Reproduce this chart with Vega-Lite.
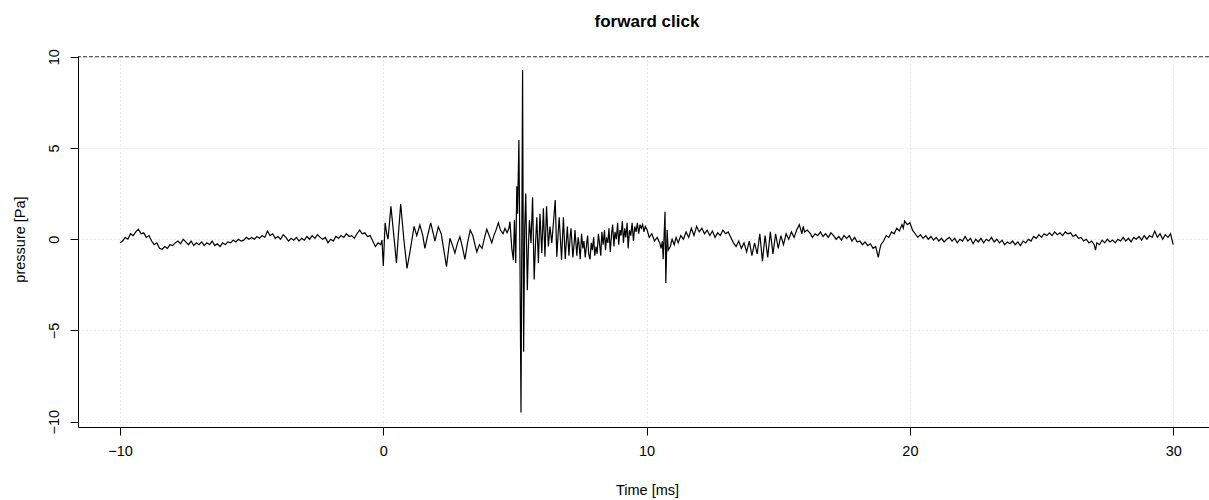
{
  "$schema": "https://vega.github.io/schema/vega-lite/v6.json",
  "autosize": {"type": "none"},
  "padding": {"left": 78, "top": 56, "right": 0, "bottom": 73},
  "width": 1131,
  "height": 371,
  "background": "white",
  "config": {
    "view": {"stroke": null},
    "font": "Liberation Sans",
    "axis": {"labelFont": "Liberation Sans", "titleFont": "Liberation Sans", "labelFontSize": 14.5, "titleFontSize": 14.5, "labelColor": "#000", "titleColor": "#000", "titleFontWeight": "normal", "domainColor": "#000", "tickColor": "#000", "tickSize": 8, "gridColor": "#d3d3d3", "gridDash": [1, 3], "gridWidth": 1}
  },
  "title": {"text": "forward click", "fontSize": 17, "fontWeight": "bold", "font": "Liberation Sans", "color": "#000", "anchor": "middle", "dx": 3.5, "offset": 18},
  "layer": [
    {
      "data": {"values": [
{"t":-10.0,"p":-0.2},{"t":-9.9,"p":-0.1},{"t":-9.8,"p":0.1},{"t":-9.7,"p":0.0},{"t":-9.6,"p":0.3},{"t":-9.5,"p":0.2},{"t":-9.4,"p":0.4},{"t":-9.3,"p":0.55},{"t":-9.2,"p":0.3},{"t":-9.1,"p":0.35},
{"t":-9.0,"p":0.1},{"t":-8.9,"p":0.2},{"t":-8.8,"p":-0.1},{"t":-8.7,"p":-0.3},{"t":-8.6,"p":-0.2},{"t":-8.5,"p":-0.5},{"t":-8.4,"p":-0.55},{"t":-8.3,"p":-0.4},{"t":-8.2,"p":-0.5},{"t":-8.1,"p":-0.3},
{"t":-8.0,"p":-0.35},{"t":-7.9,"p":-0.2},{"t":-7.8,"p":-0.1},{"t":-7.7,"p":-0.25},{"t":-7.6,"p":0.0},{"t":-7.5,"p":-0.15},{"t":-7.4,"p":-0.3},{"t":-7.3,"p":-0.1},{"t":-7.2,"p":-0.35},{"t":-7.1,"p":-0.2},
{"t":-7.0,"p":-0.3},{"t":-6.9,"p":-0.15},{"t":-6.8,"p":-0.35},{"t":-6.7,"p":-0.2},{"t":-6.6,"p":-0.3},{"t":-6.5,"p":-0.1},{"t":-6.4,"p":-0.35},{"t":-6.3,"p":-0.25},{"t":-6.2,"p":-0.4},{"t":-6.1,"p":-0.2},
{"t":-6.0,"p":-0.3},{"t":-5.9,"p":-0.15},{"t":-5.8,"p":-0.2},{"t":-5.7,"p":-0.05},{"t":-5.6,"p":-0.15},{"t":-5.5,"p":0.0},{"t":-5.4,"p":-0.1},{"t":-5.3,"p":-0.05},{"t":-5.2,"p":0.1},{"t":-5.1,"p":0.0},
{"t":-5.0,"p":0.1},{"t":-4.9,"p":0.0},{"t":-4.8,"p":0.15},{"t":-4.7,"p":0.05},{"t":-4.6,"p":0.2},{"t":-4.5,"p":0.1},{"t":-4.4,"p":0.45},{"t":-4.3,"p":0.2},{"t":-4.2,"p":0.3},{"t":-4.1,"p":0.05},
{"t":-4.0,"p":0.15},{"t":-3.9,"p":0.0},{"t":-3.8,"p":0.25},{"t":-3.7,"p":0.1},{"t":-3.6,"p":-0.1},{"t":-3.5,"p":0.05},{"t":-3.4,"p":-0.05},{"t":-3.3,"p":0.1},{"t":-3.2,"p":-0.1},{"t":-3.1,"p":0.05},
{"t":-3.0,"p":-0.05},{"t":-2.9,"p":0.15},{"t":-2.8,"p":0.0},{"t":-2.7,"p":0.2},{"t":-2.6,"p":0.05},{"t":-2.5,"p":0.25},{"t":-2.4,"p":0.1},{"t":-2.3,"p":0.0},{"t":-2.2,"p":0.1},{"t":-2.1,"p":-0.2},
{"t":-2.0,"p":0.0},{"t":-1.9,"p":-0.1},{"t":-1.8,"p":0.15},{"t":-1.7,"p":0.05},{"t":-1.6,"p":0.2},{"t":-1.5,"p":0.1},{"t":-1.4,"p":0.3},{"t":-1.3,"p":0.15},{"t":-1.2,"p":0.2},{"t":-1.1,"p":0.05},
{"t":-1.0,"p":0.3},{"t":-0.9,"p":0.5},{"t":-0.8,"p":0.3},{"t":-0.7,"p":0.35},{"t":-0.6,"p":0.15},{"t":-0.5,"p":0.2},{"t":-0.4,"p":-0.1},{"t":-0.3,"p":-0.4},{"t":-0.2,"p":-0.2},{"t":-0.1,"p":-0.3},
{"t":-0.05,"p":-0.05},{"t":0.0,"p":-1.47},{"t":0.07,"p":0.9},{"t":0.13,"p":0.3},{"t":0.18,"p":0.0},{"t":0.29,"p":1.8},{"t":0.4,"p":0.2},{"t":0.5,"p":-1.3},{"t":0.58,"p":0.4},{"t":0.66,"p":1.93},
{"t":0.78,"p":0.0},{"t":0.9,"p":-1.6},{"t":1.0,"p":-0.8},{"t":1.17,"p":0.7},{"t":1.27,"p":0.2},{"t":1.39,"p":0.78},{"t":1.5,"p":0.2},{"t":1.58,"p":-0.5},{"t":1.7,"p":0.3},{"t":1.8,"p":0.9},
{"t":1.9,"p":0.3},{"t":1.96,"p":-0.1},{"t":2.09,"p":0.68},{"t":2.2,"p":0.3},{"t":2.3,"p":-0.6},{"t":2.4,"p":-1.5},{"t":2.53,"p":0.05},{"t":2.62,"p":-0.3},{"t":2.72,"p":-0.76},{"t":2.82,"p":-0.2},
{"t":2.91,"p":0.14},{"t":3.0,"p":-0.4},{"t":3.1,"p":-1.1},{"t":3.2,"p":-0.2},{"t":3.3,"p":0.5},{"t":3.4,"p":0.2},{"t":3.48,"p":-0.3},{"t":3.55,"p":-0.7},{"t":3.65,"p":-0.3},{"t":3.75,"p":-0.5},
{"t":3.85,"p":0.1},{"t":3.93,"p":0.55},{"t":4.02,"p":0.2},{"t":4.12,"p":-0.2},{"t":4.2,"p":0.2},{"t":4.28,"p":0.5},{"t":4.37,"p":0.9},{"t":4.45,"p":0.5},{"t":4.55,"p":0.3},{"t":4.62,"p":0.6},
{"t":4.7,"p":0.35},{"t":4.77,"p":0.6},{"t":4.81,"p":0.96},{"t":4.88,"p":-0.5},{"t":4.94,"p":-1.14},{"t":4.98,"p":1.05},{"t":5.03,"p":-1.3},{"t":5.07,"p":2.9},{"t":5.1,"p":1.4},{"t":5.15,"p":5.44},
{"t":5.19,"p":-1.0},{"t":5.23,"p":-9.5},{"t":5.29,"p":9.27},{"t":5.33,"p":-6.16},{"t":5.37,"p":0.5},{"t":5.41,"p":2.5},{"t":5.47,"p":-2.8},{"t":5.51,"p":-0.5},{"t":5.55,"p":1.05},{"t":5.61,"p":-0.2},
{"t":5.67,"p":2.3},{"t":5.73,"p":-2.2},{"t":5.78,"p":-0.3},{"t":5.83,"p":1.2},{"t":5.89,"p":-1.3},{"t":5.95,"p":1.4},{"t":6.02,"p":-0.76},{"t":6.08,"p":1.7},{"t":6.14,"p":-0.96},{"t":6.2,"p":1.8},
{"t":6.27,"p":-0.4},{"t":6.33,"p":0.7},{"t":6.4,"p":-0.2},{"t":6.48,"p":1.23},{"t":6.53,"p":2.15},{"t":6.59,"p":-0.96},{"t":6.64,"p":0.3},{"t":6.68,"p":1.2},{"t":6.77,"p":-1.14},{"t":6.84,"p":1.2},
{"t":6.91,"p":-1.1},{"t":6.99,"p":0.7},{"t":7.05,"p":-0.9},{"t":7.1,"p":0.2},{"t":7.13,"p":0.6},{"t":7.2,"p":-1.0},{"t":7.25,"p":-0.2},{"t":7.28,"p":0.5},{"t":7.35,"p":-0.9},{"t":7.4,"p":0.1},
{"t":7.43,"p":-0.2},{"t":7.48,"p":-1.1},{"t":7.53,"p":0.3},{"t":7.58,"p":-0.5},{"t":7.62,"p":-0.1},{"t":7.67,"p":-1.0},{"t":7.72,"p":-0.3},{"t":7.76,"p":0.2},{"t":7.8,"p":-0.8},{"t":7.85,"p":-1.1},
{"t":7.9,"p":-0.2},{"t":7.94,"p":-0.6},{"t":7.99,"p":0.1},{"t":8.03,"p":-0.9},{"t":8.08,"p":-0.4},{"t":8.12,"p":-0.8},{"t":8.17,"p":0.3},{"t":8.21,"p":-0.2},{"t":8.26,"p":-0.9},{"t":8.3,"p":0.4},
{"t":8.35,"p":-0.3},{"t":8.4,"p":0.5},{"t":8.44,"p":-0.6},{"t":8.48,"p":0.1},{"t":8.53,"p":-0.2},{"t":8.57,"p":0.6},{"t":8.62,"p":-0.7},{"t":8.67,"p":0.3},{"t":8.71,"p":0.8},{"t":8.76,"p":-0.4},
{"t":8.8,"p":0.4},{"t":8.85,"p":0.0},{"t":8.9,"p":0.9},{"t":8.94,"p":-0.3},{"t":8.99,"p":0.5},{"t":9.03,"p":0.2},{"t":9.08,"p":1.0},{"t":9.12,"p":-0.2},{"t":9.17,"p":0.6},{"t":9.21,"p":0.1},
{"t":9.26,"p":0.9},{"t":9.3,"p":-0.5},{"t":9.35,"p":0.5},{"t":9.4,"p":0.2},{"t":9.45,"p":0.9},{"t":9.5,"p":-0.1},{"t":9.55,"p":0.7},{"t":9.6,"p":0.4},{"t":9.65,"p":0.9},{"t":9.7,"p":0.3},
{"t":9.75,"p":0.8},{"t":9.8,"p":0.6},{"t":9.85,"p":0.8},{"t":9.9,"p":0.4},{"t":9.95,"p":0.7},{"t":10.02,"p":0.5},
{"t":10.1,"p":0.1},{"t":10.2,"p":0.3},{"t":10.3,"p":-0.1},{"t":10.4,"p":0.1},{"t":10.5,"p":-0.2},{"t":10.55,"p":-0.5},{"t":10.6,"p":-0.1},{"t":10.63,"p":-1.1},{"t":10.7,"p":1.5},{"t":10.73,"p":-2.4},
{"t":10.78,"p":0.5},{"t":10.82,"p":-0.6},{"t":10.9,"p":-0.4},{"t":10.97,"p":0.0},{"t":11.05,"p":-0.3},{"t":11.12,"p":0.1},{"t":11.2,"p":-0.2},{"t":11.3,"p":0.2},{"t":11.4,"p":0.0},{"t":11.5,"p":0.4},
{"t":11.6,"p":0.1},{"t":11.7,"p":0.6},{"t":11.8,"p":0.2},{"t":11.9,"p":0.7},{"t":12.0,"p":0.4},{"t":12.1,"p":0.6},{"t":12.2,"p":0.3},{"t":12.3,"p":0.5},{"t":12.4,"p":0.2},{"t":12.5,"p":0.45},
{"t":12.6,"p":0.1},{"t":12.7,"p":0.35},{"t":12.8,"p":0.2},{"t":12.9,"p":0.5},{"t":13.0,"p":0.3},{"t":13.1,"p":0.4},{"t":13.2,"p":0.1},{"t":13.3,"p":-0.2},{"t":13.4,"p":-0.4},{"t":13.5,"p":-0.1},
{"t":13.6,"p":-0.5},{"t":13.7,"p":-0.2},{"t":13.8,"p":-0.7},{"t":13.9,"p":-0.1},{"t":14.0,"p":-0.9},{"t":14.1,"p":-0.2},{"t":14.2,"p":-0.8},{"t":14.3,"p":0.3},{"t":14.4,"p":-1.2},{"t":14.5,"p":0.2},
{"t":14.6,"p":-1.0},{"t":14.7,"p":0.4},{"t":14.8,"p":-0.8},{"t":14.9,"p":0.3},{"t":15.0,"p":-0.5},{"t":15.1,"p":0.2},{"t":15.2,"p":-0.3},{"t":15.3,"p":0.3},{"t":15.4,"p":0.0},{"t":15.5,"p":0.4},
{"t":15.6,"p":0.1},{"t":15.7,"p":0.5},{"t":15.8,"p":0.8},{"t":15.9,"p":0.3},{"t":15.95,"p":0.7},{"t":16.0,"p":0.4},{"t":16.1,"p":0.5},{"t":16.2,"p":0.35},{"t":16.3,"p":0.1},{"t":16.4,"p":0.3},
{"t":16.5,"p":0.2},{"t":16.6,"p":0.4},{"t":16.7,"p":0.15},{"t":16.8,"p":0.3},{"t":16.9,"p":0.1},{"t":17.0,"p":0.35},{"t":17.1,"p":0.2},{"t":17.2,"p":0.0},{"t":17.3,"p":0.15},{"t":17.4,"p":-0.05},
{"t":17.5,"p":0.2},{"t":17.6,"p":0.05},{"t":17.7,"p":0.2},{"t":17.8,"p":-0.1},{"t":17.9,"p":0.1},{"t":18.0,"p":-0.15},{"t":18.1,"p":-0.1},{"t":18.2,"p":-0.3},{"t":18.3,"p":-0.15},{"t":18.4,"p":-0.35},
{"t":18.5,"p":-0.25},{"t":18.6,"p":-0.5},{"t":18.7,"p":-0.4},{"t":18.8,"p":-1.0},{"t":18.85,"p":-0.6},{"t":18.9,"p":-0.3},{"t":19.0,"p":-0.1},{"t":19.1,"p":0.2},{"t":19.2,"p":0.1},{"t":19.3,"p":0.4},
{"t":19.4,"p":0.3},{"t":19.5,"p":0.6},{"t":19.6,"p":0.45},{"t":19.7,"p":0.8},{"t":19.75,"p":0.6},{"t":19.8,"p":1.0},{"t":19.9,"p":0.8},{"t":20.0,"p":0.9},{"t":20.1,"p":0.5},{"t":20.2,"p":0.3},
{"t":20.3,"p":0.1},{"t":20.4,"p":0.25},{"t":20.5,"p":0.05},{"t":20.6,"p":0.2},{"t":20.7,"p":0.0},{"t":20.8,"p":0.15},{"t":20.9,"p":-0.05},{"t":21.0,"p":0.1},{"t":21.1,"p":-0.1},{"t":21.2,"p":0.05},
{"t":21.3,"p":-0.15},{"t":21.4,"p":0.0},{"t":21.5,"p":0.1},{"t":21.6,"p":-0.1},{"t":21.7,"p":0.05},{"t":21.8,"p":-0.2},{"t":21.9,"p":0.0},{"t":22.0,"p":-0.1},{"t":22.1,"p":0.15},{"t":22.2,"p":-0.1},
{"t":22.3,"p":0.05},{"t":22.4,"p":-0.25},{"t":22.5,"p":0.0},{"t":22.6,"p":-0.15},{"t":22.7,"p":0.05},{"t":22.8,"p":-0.2},{"t":22.9,"p":0.0},{"t":23.0,"p":-0.1},{"t":23.1,"p":0.1},{"t":23.2,"p":-0.15},
{"t":23.3,"p":0.0},{"t":23.4,"p":-0.2},{"t":23.5,"p":-0.05},{"t":23.6,"p":-0.3},{"t":23.7,"p":-0.15},{"t":23.8,"p":-0.25},{"t":23.9,"p":-0.1},{"t":24.0,"p":-0.3},{"t":24.1,"p":-0.15},{"t":24.2,"p":-0.35},
{"t":24.3,"p":-0.1},{"t":24.4,"p":-0.2},{"t":24.5,"p":0.0},{"t":24.6,"p":-0.1},{"t":24.7,"p":0.15},{"t":24.8,"p":0.05},{"t":24.9,"p":0.25},{"t":25.0,"p":0.1},{"t":25.1,"p":0.3},{"t":25.2,"p":0.2},
{"t":25.3,"p":0.35},{"t":25.4,"p":0.2},{"t":25.5,"p":0.4},{"t":25.6,"p":0.25},{"t":25.7,"p":0.35},{"t":25.8,"p":0.2},{"t":25.9,"p":0.4},{"t":26.0,"p":0.3},{"t":26.1,"p":0.35},{"t":26.2,"p":0.15},
{"t":26.3,"p":0.25},{"t":26.4,"p":0.05},{"t":26.5,"p":0.1},{"t":26.6,"p":-0.1},{"t":26.7,"p":0.0},{"t":26.8,"p":-0.2},{"t":26.9,"p":-0.1},{"t":27.0,"p":-0.3},{"t":27.05,"p":-0.6},{"t":27.1,"p":-0.2},
{"t":27.2,"p":-0.3},{"t":27.3,"p":-0.05},{"t":27.4,"p":-0.2},{"t":27.5,"p":0.0},{"t":27.6,"p":-0.15},{"t":27.7,"p":-0.05},{"t":27.8,"p":-0.2},{"t":27.9,"p":0.0},{"t":28.0,"p":-0.1},{"t":28.1,"p":0.1},
{"t":28.2,"p":-0.1},{"t":28.3,"p":0.05},{"t":28.4,"p":-0.15},{"t":28.5,"p":0.1},{"t":28.6,"p":0.0},{"t":28.7,"p":0.15},{"t":28.8,"p":-0.05},{"t":28.9,"p":0.2},{"t":29.0,"p":0.0},{"t":29.1,"p":0.2},
{"t":29.2,"p":0.1},{"t":29.3,"p":0.45},{"t":29.4,"p":0.1},{"t":29.5,"p":0.3},{"t":29.6,"p":0.0},{"t":29.7,"p":0.25},{"t":29.8,"p":0.1},{"t":29.9,"p":0.3},{"t":30.0,"p":-0.3}
      ]},
      "mark": {"type": "line", "color": "#000", "strokeWidth": 1.2, "clip": true, "interpolate": "linear"},
      "encoding": {
        "x": {"field": "t", "type": "quantitative",
          "scale": {"domain": [-11.595, 31.36], "nice": false, "zero": false},
          "axis": {"values": [-10, 0, 10, 20, 30], "title": "Time [ms]", "grid": true, "labelPadding": 9, "titleX": 569, "titleY": 67, "titleBaseline": "alphabetic", "titleAnchor": null}},
        "y": {"field": "p", "type": "quantitative",
          "scale": {"domain": [-10.29, 10.04], "nice": false, "zero": false},
          "axis": {"values": [-10, -5, 0, 5, 10], "title": "pressure [Pa]", "grid": true, "labelAngle": -90, "labelAlign": "center", "labelBaseline": "alphabetic", "labelPadding": 12, "titleAngle": -90, "titleX": -54, "titleY": 183, "titleAlign": "center", "titleBaseline": "alphabetic"}}
      }
    },
    {
      "data": {"values": [{"level": 10}]},
      "mark": {"type": "rule", "color": "#333", "strokeWidth": 1, "strokeDash": [4, 2]},
      "encoding": {"y": {"field": "level", "type": "quantitative"}}
    }
  ]
}
